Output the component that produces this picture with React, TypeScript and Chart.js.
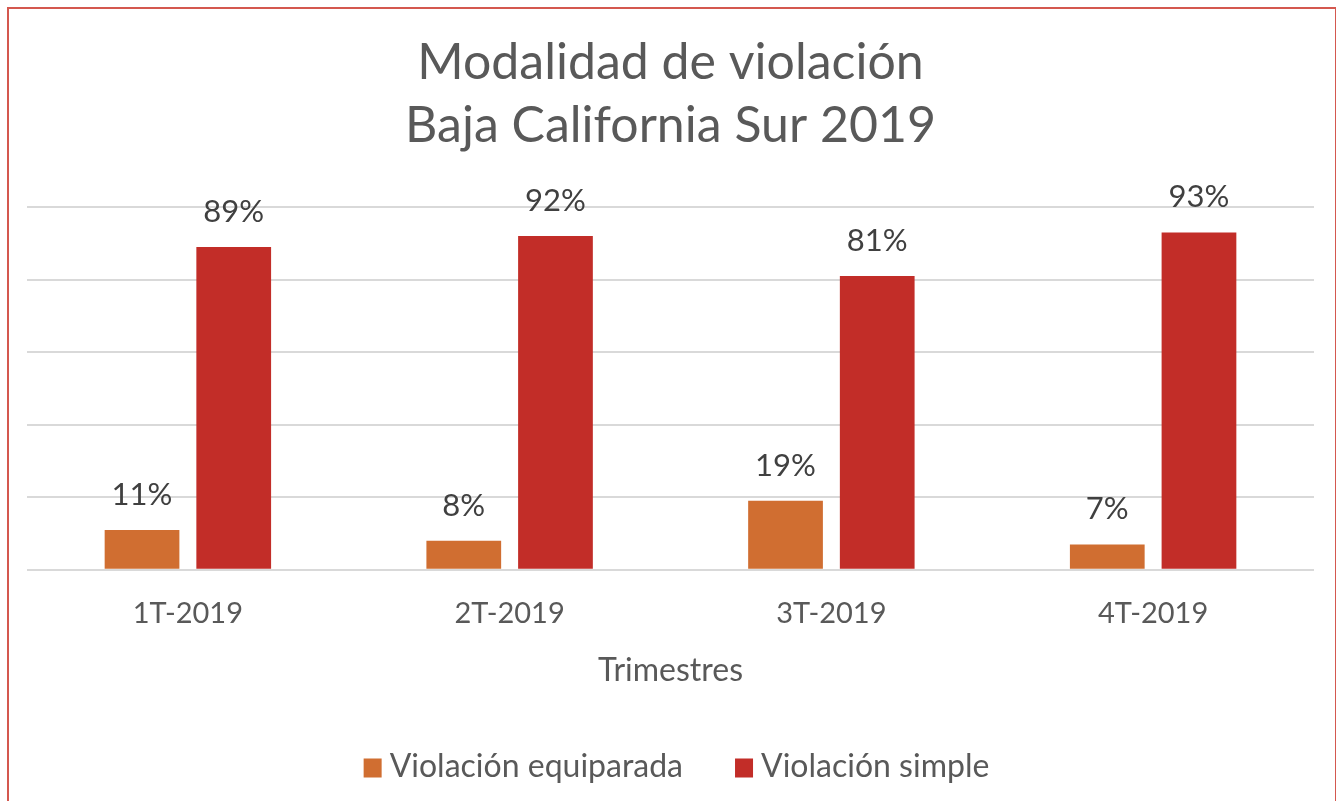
import React, { useEffect, useRef } from "react";
import { Chart, registerables } from "chart.js";

Chart.register(...registerables);

const quarters = ["1T-2019", "2T-2019", "3T-2019", "4T-2019"];
const equiparada = [11, 8, 19, 7];
const simple = [89, 92, 81, 93];
const seriesNames = ["Violación equiparada", "Violación simple"];
const seriesColors = ["#D06E31", "#C22D28"];
const titleLines = ["Modalidad de violación", "Baja California Sur 2019"];
const axisTitle = "Trimestres";

const FONT = "Lato, 'Open Sans', sans-serif";
const TEXT = "#595959";

// Draws the percentage above each bar
const valueLabels = {
  id: "valueLabels",
  afterDatasetsDraw(chart: any) {
    const ctx = chart.ctx;
    ctx.save();
    ctx.font = `31px ${FONT}`;
    ctx.fillStyle = "#404040";
    ctx.textAlign = "center";
    ctx.textBaseline = "middle";
    chart.data.datasets.forEach((ds: any, i: number) => {
      const meta = chart.getDatasetMeta(i);
      meta.data.forEach((bar: any, j: number) => {
        ctx.fillText(`${ds.data[j]}%`, bar.x, bar.y - 35);
      });
    });
    ctx.restore();
  },
};

// Compact legend centred under the plot: square swatch, small gap, label
const bottomLegend = {
  id: "bottomLegend",
  afterDraw(chart: any) {
    const ctx = chart.ctx;
    const box = 19;
    const gap = 7;
    const itemGap = 52;
    ctx.save();
    ctx.font = `32px ${FONT}`;
    ctx.textBaseline = "middle";
    ctx.textAlign = "left";
    const widths = chart.data.datasets.map((ds: any) => box + gap + ctx.measureText(ds.label).width);
    const total = widths.reduce((a: number, b: number) => a + b, 0) + itemGap * (widths.length - 1);
    const cx = (chart.chartArea.left + chart.chartArea.right) / 2 + 6;
    const cy = chart.height - 34;
    let x = cx - total / 2;
    chart.data.datasets.forEach((ds: any, i: number) => {
      ctx.fillStyle = ds.backgroundColor;
      ctx.fillRect(x, cy - box / 2 + 1, box - 1, box);
      ctx.fillStyle = TEXT;
      ctx.fillText(ds.label, x + box + gap, cy);
      x += widths[i] + itemGap;
    });
    ctx.restore();
  },
};

export default function App() {
  const ref = useRef<HTMLCanvasElement>(null);

  useEffect(() => {
    if (!ref.current) return;
    const chart = new Chart(ref.current, {
      type: "bar",
      data: {
        labels: quarters,
        datasets: [
          {
            label: seriesNames[0],
            data: equiparada,
            backgroundColor: seriesColors[0],
            categoryPercentage: 0.57,
            barPercentage: 0.815,
          },
          {
            label: seriesNames[1],
            data: simple,
            backgroundColor: seriesColors[1],
            categoryPercentage: 0.57,
            barPercentage: 0.815,
          },
        ],
      },
      options: {
        animation: false,
        responsive: false,
        maintainAspectRatio: false,
        layout: { padding: { left: 27, right: 22, top: 31, bottom: 111 } },
        plugins: {
          title: {
            display: true,
            text: titleLines,
            color: TEXT,
            font: { family: FONT, size: 50, weight: "normal", lineHeight: 1.26 },
            padding: { top: 0, bottom: 50 },
          },
          legend: { display: false },
          tooltip: { enabled: false },
        },
        scales: {
          x: {
            grid: { display: false },
            border: { display: false },
            ticks: { color: TEXT, font: { family: FONT, size: 29 }, padding: 18 },
            title: {
              display: true,
              text: axisTitle,
              color: TEXT,
              font: { family: FONT, size: 32 },
              padding: { top: 3, bottom: 0 },
            },
          },
          y: {
            min: 0,
            max: 100,
            ticks: { display: false, stepSize: 20 },
            grid: { color: "#D9D9D9", lineWidth: 2, drawTicks: false },
            border: { display: false },
          },
        },
      },
      plugins: [valueLabels, bottomLegend],
    });
    return () => chart.destroy();
  }, []);

  return (
    <div style={{ position: "absolute", left: 0, top: 0, width: 1336, height: 801, background: "#fff" }}>
      <canvas ref={ref} width={1336} height={801} style={{ position: "absolute", left: 0, top: 0 }} />
      <div
        style={{
          position: "absolute",
          left: 7,
          top: 7,
          width: 1326,
          height: 810,
          border: "2px solid #D4584F",
          pointerEvents: "none",
        }}
      />
    </div>
  );
}
